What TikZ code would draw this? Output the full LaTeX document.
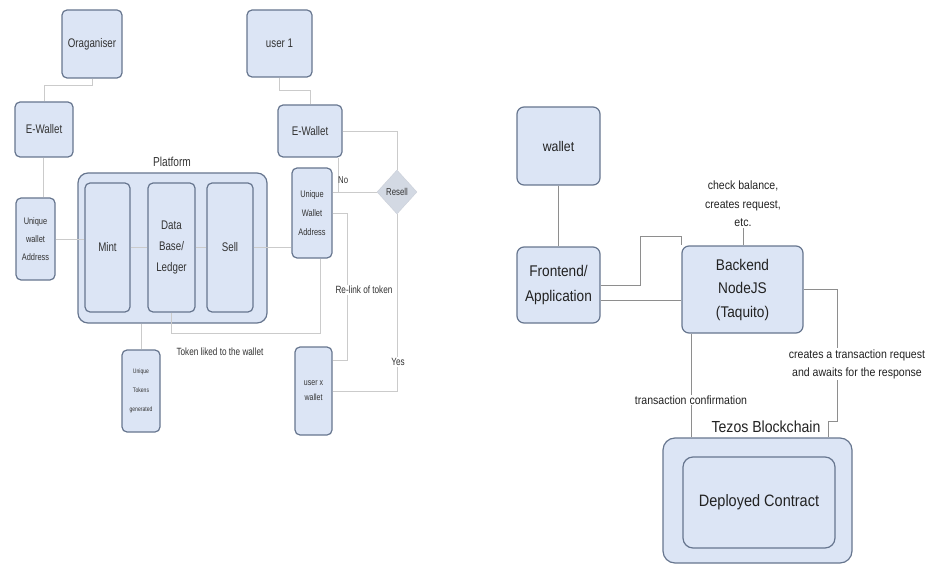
\documentclass[tikz,border=0pt]{standalone}
\usepackage{fontspec}
\setmainfont{Liberation Sans}
\newfontfamily\nar{Liberation Sans}[FakeStretch=0.78]
\newfontfamily\semi{Liberation Sans}[FakeStretch=0.88]
\usetikzlibrary{shapes.geometric}
\definecolor{boxfill}{HTML}{DCE5F5}
\definecolor{boxline}{HTML}{67768F}
\definecolor{lnkL}{HTML}{CBCBCB}
\definecolor{lnkR}{HTML}{8E8E8E}
\definecolor{txtL}{HTML}{333333}
\definecolor{txtR}{HTML}{222222}
\definecolor{dia}{HTML}{D3D9E3}
\newcommand{\setfs}[2]{\fontsize{#1}{#2}\selectfont}
\tikzset{
  box/.style={draw=boxline, fill=boxfill, rounded corners=5pt, line width=1.2pt,
    inner sep=0pt, align=center},
  lbox/.style={box, text=txtL, font=\nar\setfs{12.5}{21}},
  rbox/.style={box, text=txtR, rounded corners=7pt},
  linkL/.style={draw=lnkL, line width=0.7pt},
  linkR/.style={draw=lnkR, line width=0.7pt},
  lbl/.style={inner sep=1pt, align=center},
}
\begin{document}
\begin{tikzpicture}[x=1pt,y=-1pt]
\useasboundingbox (0,0) rectangle (945,564);

% ---------- minting and resale flow ----------
\node[lbox, minimum width=60pt, minimum height=68pt] (org) at (92,44) {Oraganiser};
\node[lbox, minimum width=65pt, minimum height=67pt] (user1) at (279.5,43.5) {user 1};
\node[lbox, minimum width=58pt, minimum height=55pt] (ew1) at (44,129.5) {E-Wallet};
\node[lbox, minimum width=64pt, minimum height=52pt] (ew2) at (310,131) {E-Wallet};

\node[lbox, rounded corners=10pt, minimum width=189pt, minimum height=150pt] (plat) at (172.5,248) {};
\node[lbl, text=txtL, font=\nar\setfs{13}{15}] (platlbl) at (172,162) {Platform};
\node[lbox, minimum width=45pt, minimum height=129pt] (mint) at (107.5,247.5) {Mint};
\node[lbox, minimum width=47pt, minimum height=129pt] (db) at (171.5,247.5) {Data\\Base/\\Ledger};
\node[lbox, minimum width=46pt, minimum height=129pt] (sell) at (230,247.5) {Sell};

\node[lbox, font=\nar\setfs{9.5}{18}, minimum width=39pt, minimum height=82pt] (uwa1) at (35.5,239) {Unique\\wallet\\Address};
\node[lbox, font=\nar\setfs{9.5}{19}, minimum width=40pt, minimum height=90pt] (uwa2) at (312,213) {Unique\\Wallet\\Address};
\node[diamond, fill=dia, draw=dia!90!gray, inner sep=0pt, minimum width=40pt, minimum height=44pt,
  text=txtL, font=\nar\setfs{10}{12}] (resell) at (397,192) {Resell};
\node[lbox, font=\nar\setfs{6.5}{19}, minimum width=38pt, minimum height=82pt] (tok) at (141,391) {Unique\\Tokens\\generated};
\node[lbox, font=\nar\setfs{9}{15}, minimum width=37pt, minimum height=88pt] (userx) at (313.5,391) {user x\\wallet};

\draw[linkL] (org.south) -- ++(0,7) -| (ew1.north);
\draw[linkL] ([xshift=-1pt]ew1.south) -- ([xshift=-1pt]ew1.south |- uwa1.north);
\draw[linkL] (uwa1.east) -- (uwa1.east -| mint.west);
\draw[linkL] (mint.east) -- (db.west);
\draw[linkL] (db.east) -- (sell.west);
\draw[linkL] (sell.east) -- (sell.east -| uwa2.west);
\draw[linkL] (user1.south) -- ++(0,13) -| (ew2.north);
\draw[linkL] (ew2.east) -| (resell.north);
\coordinate (nojoin) at (338,192);
\draw[linkL] (ew2.south -| nojoin) -- (nojoin);
\draw[linkL] (resell.west -| uwa2.east) -- (resell.west);
\draw[linkL] (resell.south) |- (userx.east);
\draw[linkL] (uwa2.east) -- ++(15,0) |- ([yshift=31pt]userx.east);
\draw[linkL] (db.south) -- (db.south |- 0,333) -| ([xshift=8pt]uwa2.south);
\draw[linkL] (tok.north) -- (tok.north |- plat.south);

\node[lbl, text=txtL, font=\nar\setfs{10}{12}, anchor=west] (nolbl) at (337,180) {No};
\node[lbl, fill=white, text=txtL, font=\nar\setfs{10.5}{12}] (relink) at (364,290) {Re-link of token};
\node[lbl, fill=white, text=txtL, font=\nar\setfs{10.5}{12}] (yes) at (398,362) {Yes};
\node[lbl, text=txtL, font=\nar\setfs{10.5}{12}] (linked) at (220,352) {Token liked to the wallet};

% ---------- application stack ----------
\node[rbox, font=\semi\setfs{14}{16}, minimum width=83pt, minimum height=78pt] (wallet) at (558.5,146) {wallet};
\node[rbox, font=\semi\setfs{15.5}{25}, minimum width=83pt, minimum height=76pt] (front) at (558.5,285) {Frontend/\\Application};
\node[rbox, font=\semi\setfs{15.5}{23.5}, minimum width=121pt, minimum height=87pt] (back) at (742.5,289.5) {Backend\\NodeJS\\(Taquito)};
\node[lbl, text=txtR, font=\semi\setfs{12}{18.5}] (chk) at (743,204) {check balance,\\creates request,\\etc.};

\node[rbox, rounded corners=12pt, minimum width=189pt, minimum height=125pt] (tzo) at (757.5,500.5) {};
\node[rbox, rounded corners=10pt, font=\semi\setfs{16.5}{18}, minimum width=152pt, minimum height=91pt] (contract) at (759,502.5) {Deployed Contract};
\node[lbl, text=txtR, font=\semi\setfs{16}{18}] (tzlbl) at (766,427) {Tezos Blockchain};

\draw[linkR] (wallet.south) -- (front.north);
\draw[linkR] (front.east) -- ++(40,0) |- ([yshift=9pt]back.north west) -- (back.north west);
\draw[linkR] ([yshift=-15pt]front.east) -- ([yshift=-15pt]front.east -| back.west);
\draw[linkR] (chk.south) -- (chk.south |- back.north);
\draw[linkR] (back.east) -- ++(34,0) |- ([xshift=-24pt,yshift=16pt]tzo.north east) -- ([xshift=-24pt]tzo.north east);
\draw[linkR] ([xshift=10pt]back.south west) -- ([xshift=10pt]back.south west |- tzo.north);

\node[lbl, fill=white, text=txtR, font=\semi\setfs{12}{18}] (tconf) at (691,400) {transaction confirmation};
\node[lbl, fill=white, text=txtR, font=\semi\setfs{12}{18}] (creq) at (857,364) {creates a transaction request\\and awaits for the response};
\end{tikzpicture}
\end{document}
